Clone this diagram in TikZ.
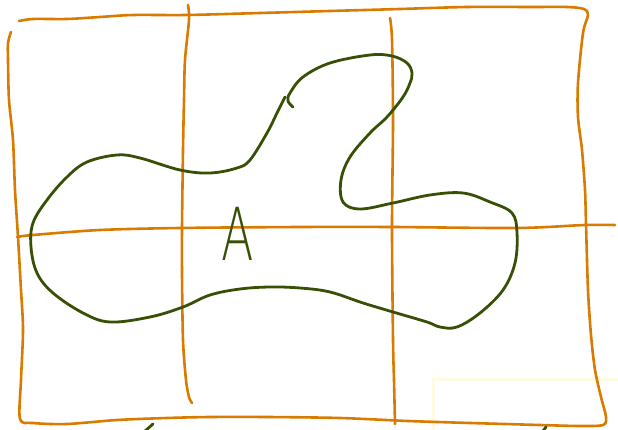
\documentclass[tikz,border=0pt]{standalone}
\usepackage{fontspec}
\newfontfamily\sketchfont{DejaVu Sans ExtraLight}
\definecolor{penorange}{RGB}{217,123,0}
\definecolor{pengreen}{RGB}{56,80,6}
\definecolor{paleyellow}{RGB}{255,250,226}
\tikzset{
  gridline/.style={draw=penorange,line width=2.6pt,line cap=round,line join=round},
  blob/.style={draw=pengreen,line width=2.8pt,line cap=round,line join=round},
  ghost/.style={draw=paleyellow,line width=3pt},
  letter/.style={text=pengreen,font=\sketchfont\fontsize{73}{73}\selectfont,inner sep=0pt}
}

\begin{document}
\begin{tikzpicture}[x=1pt,y=-1pt]
\useasboundingbox (0,0) rectangle (618,430);
% faint frame, bottom right
\draw[ghost] (433,432) -- (433,379) -- (620,379);
% outer frame
\draw[gridline] plot[smooth,tension=0.5] coordinates {(19,21) (33,19) (67,19) (100,17) (133,15) (187,15) (260,13) (330,11) (400,9) (467,7) (533,7) (567,7) (584,9) (588,15) (583,33) (578,83) (578,117) (582,150) (585,190) (586,224) (588,290) (591,335) (595,370) (601,397) (606,417) (603,425) (580,426) (540,425) (470,423) (408,421) (340,418) (267,417) (210,417) (167,418) (117,420) (67,424) (33,423) (20,419) (21,380) (23,330) (21,290) (18,237) (15,190) (13,140) (9,100) (8,60) (8,43) (11,32)};
% grid lines
\draw[gridline] plot[smooth,tension=0.5] coordinates {(17,237) (33,235) (100,230) (180,228) (300,227) (392,227) (517,228) (585,225) (615,225)};
\draw[gridline] plot[smooth,tension=0.5] coordinates {(188,5) (189,20) (185,60) (184,100) (183,150) (182,228) (182,273) (183,340) (186,380) (189,397) (192,403)};
\draw[gridline] plot[smooth,tension=0.5] coordinates {(390,18) (392,40) (393,120) (392,227) (393,340) (394,380) (395,424)};
% the region
\draw[blob] plot[smooth,tension=0.6] coordinates {(293,107) (288,101) (290,93) (303,77) (330,63) (370,55) (392,56) (407,63) (412,73) (410,83) (403,97) (387,117) (370,133) (350,157) (341,180) (343,202) (360,209) (393,203) (430,195) (463,193) (490,202) (512,213) (517,233) (515,263) (503,290) (480,313) (457,327) (440,327) (427,322) (393,312) (363,303) (330,292) (300,288) (270,287) (240,289) (210,295) (183,307) (150,317) (110,322) (83,313) (53,293) (37,273) (31,247) (33,223) (47,200) (67,177) (87,162) (117,155) (140,158) (180,170) (210,173) (237,168) (250,160) (267,133) (277,113) (285,97)};
\node[letter] (lettera) at (238,234) {\scalebox{0.65}[1]{A}};
% stray pen marks at the bottom edge
\draw[blob] (145,431) -- (153,424);
\draw[blob] (543,431) -- (546,427);
\end{tikzpicture}
\end{document}
